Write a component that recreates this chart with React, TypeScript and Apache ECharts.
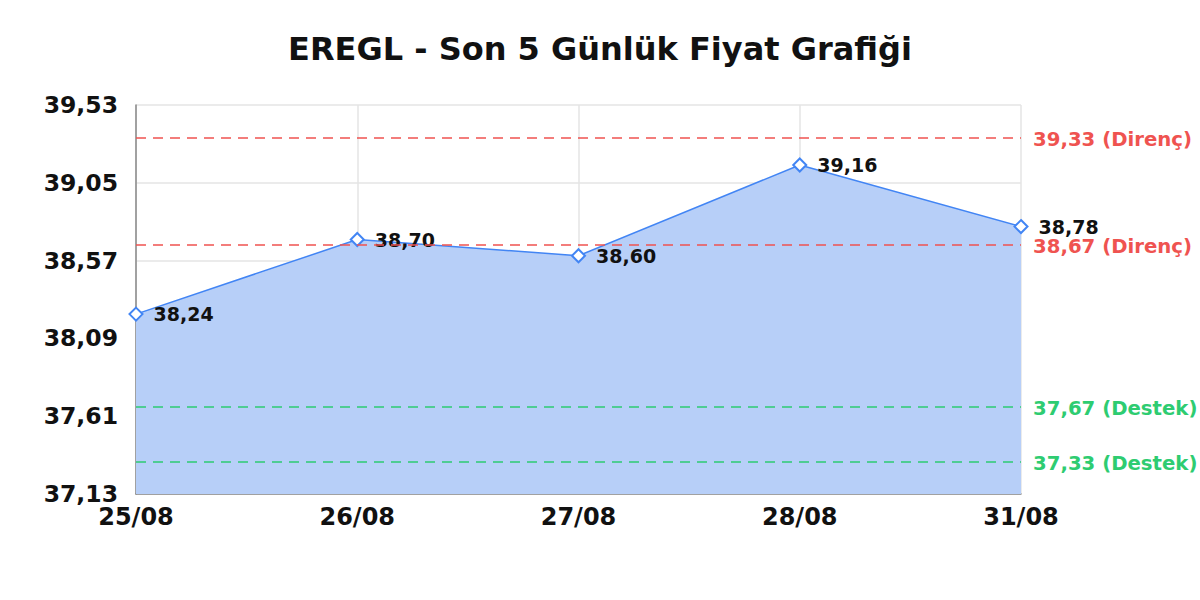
import React, { useEffect, useRef } from 'react';
import * as echarts from 'echarts';

// Tarih ekseni ve kapanış fiyatları
const days = ['25/08', '26/08', '27/08', '28/08', '31/08'];
const prices = [38.24, 38.7, 38.6, 39.16, 38.78];

// Y ekseni etiketleri
const yTicks = [37.13, 37.61, 38.09, 38.57, 39.05, 39.53];

// Destek / direnç seviyeleri
const resistance = [39.33, 38.67];
const support = [37.67, 37.33];

const FONT = 'DejaVu Sans';
const fmt = (v: number) => v.toFixed(2).replace('.', ',');

const App: React.FC = () => {
  const chartRef = useRef<HTMLDivElement>(null);

  useEffect(() => {
    document.body.style.margin = '0';
    const chart = echarts.init(chartRef.current!, undefined, { renderer: 'svg' });

    const levelLine = (value: number, color: string, name: string) => ({
      yAxis: value,
      lineStyle: { color, type: [10, 7], width: 1.5 },
      label: {
        show: true,
        position: 'end',
        distance: 12,
        offset: [0, 2],
        formatter: `${fmt(value)} (${name})`,
        color,
        fontFamily: FONT,
        fontWeight: 'bold',
        fontSize: 19.7,
        lineHeight: 16,
      },
    });

    const options = {
      animation: false,
      title: {
        text: 'EREGL - Son 5 Günlük Fiyat Grafiği',
        left: 'center',
        top: 28,
        textStyle: {
          fontFamily: FONT,
          fontSize: 32,
          fontWeight: 'bold',
          color: '#111',
        },
      },
      grid: {
        left: 136,
        right: 179,
        top: 105,
        bottom: 106,
      },
      xAxis: {
        type: 'category',
        data: days,
        boundaryGap: false,
        axisLine: { show: true, lineStyle: { color: '#888', width: 1.5 } },
        axisTick: { show: false },
        axisLabel: {
          fontFamily: FONT,
          fontSize: 24,
          fontWeight: 'bold',
          color: '#111',
          margin: 11,
        },
        splitLine: { show: true, lineStyle: { color: '#e4e4e4', width: 1.5 } },
      },
      yAxis: {
        type: 'value',
        min: yTicks[0],
        max: yTicks[yTicks.length - 1],
        axisLine: { show: true, lineStyle: { color: '#888', width: 1.5 } },
        axisTick: { show: false, customValues: yTicks },
        axisLabel: {
          customValues: yTicks,
          formatter: (v: number) => fmt(v),
          fontFamily: FONT,
          fontSize: 23.5,
          fontWeight: 'bold',
          color: '#111',
          margin: 18,
        },
        splitLine: { show: true, lineStyle: { color: '#e4e4e4', width: 1.5 } },
      },
      series: [
        {
          type: 'line',
          data: prices,
          symbol: 'emptyDiamond',
          symbolSize: 13,
          lineStyle: { color: '#4285f4', width: 1.5 },
          itemStyle: { color: '#4285f4', borderWidth: 2 },
          areaStyle: { color: '#b7cff8', opacity: 1 },
          label: {
            show: true,
            position: 'right',
            distance: 10,
            offset: [0, 0],
            formatter: (p: any) => fmt(p.value),
            fontFamily: FONT,
            fontSize: 19,
            fontWeight: 'bold',
            color: '#111',
            lineHeight: 16,
          },
          markLine: {
            silent: true,
            symbol: 'none',
            data: [
              ...resistance.map((v) => levelLine(v, '#ef5350', 'Direnç')),
              ...support.map((v) => levelLine(v, '#2ecc71', 'Destek')),
            ],
          },
        },
      ],
    };

    chart.setOption(options);

    return () => {
      chart.dispose();
    };
  }, []);

  return <div ref={chartRef} style={{ width: '1200px', height: '600px' }} />;
};

export default App;
